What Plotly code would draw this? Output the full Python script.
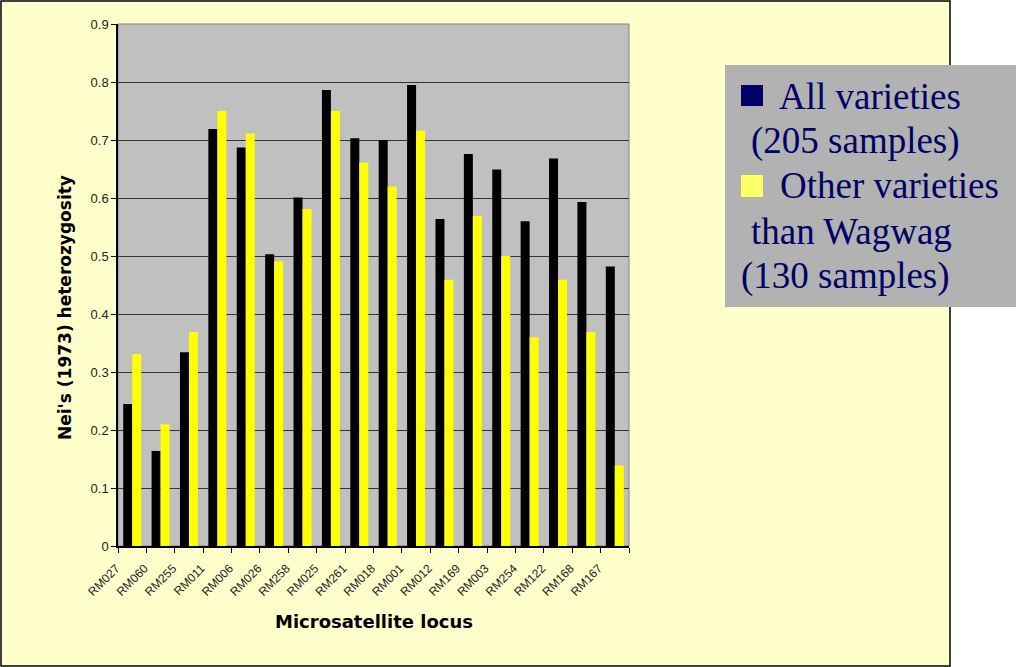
import plotly.graph_objects as go

# Microsatellite loci and Nei's (1973) heterozygosity per group
loci = ["RM027", "RM060", "RM255", "RM011", "RM006", "RM026", "RM258", "RM025", "RM261",
        "RM018", "RM001", "RM012", "RM169", "RM003", "RM254", "RM122", "RM168", "RM167"]
all_varieties = [0.245, 0.164, 0.334, 0.719, 0.687, 0.503, 0.601, 0.786, 0.703,
                 0.700, 0.795, 0.564, 0.676, 0.649, 0.560, 0.668, 0.593, 0.482]
other_varieties = [0.331, 0.210, 0.369, 0.750, 0.711, 0.491, 0.581, 0.750, 0.661,
                   0.620, 0.716, 0.459, 0.569, 0.500, 0.360, 0.459, 0.369, 0.139]

legend_lines = ["All varieties", "(205 samples)", "Other varieties", "than Wagwag", "(130 samples)"]

W, H = 1016, 667
L, R, T, B = 118, 629, 24, 546  # plot area edges in pixels


def px(xp):
    return (xp - L) / (R - L)


def py(yp):
    return (B - yp) / (B - T)


fig = go.Figure()
fig.add_trace(go.Bar(x=loci, y=all_varieties, name="All varieties (205 samples)",
                     marker=dict(color="#000000", line=dict(width=0))))
fig.add_trace(go.Bar(x=loci, y=other_varieties, name="Other varieties than Wagwag (130 samples)",
                     marker=dict(color="#FFFF00", line=dict(width=0))))

shapes = [
    # slide panel
    dict(type="rect", xref="paper", yref="paper", x0=px(1), x1=px(950), y0=py(666), y1=py(1),
         fillcolor="#FFFFCC", line=dict(color="#000000", width=1.5), layer="below"),
    # plot area
    dict(type="rect", xref="paper", yref="paper", x0=0, x1=1, y0=0, y1=1,
         fillcolor="#C0C0C0", line=dict(color="#808080", width=1), layer="below"),
    # legend box
    dict(type="rect", xref="paper", yref="paper", x0=px(725), x1=px(1030), y0=py(307), y1=py(65),
         fillcolor="#B2B2B2", line=dict(width=0), layer="below"),
    # legend keys
    dict(type="rect", xref="paper", yref="paper", x0=px(741), x1=px(763), y0=py(106), y1=py(85),
         fillcolor="#000066", line=dict(width=0), layer="above"),
    dict(type="rect", xref="paper", yref="paper", x0=px(741), x1=px(763), y0=py(197), y1=py(175),
         fillcolor="#FFFF66", line=dict(width=0), layer="above"),
]

annotations = [
    dict(text="Nei's (1973) heterozygosity", xref="paper", yref="paper", x=px(65), y=py(308),
         textangle=-90, showarrow=False, xanchor="center", yanchor="middle",
         font=dict(family="DejaVu Sans", size=17, color="#000000", weight="bold")),
    dict(text="Microsatellite locus", xref="paper", yref="paper", x=px(374), y=py(621),
         showarrow=False, xanchor="center", yanchor="middle",
         font=dict(family="DejaVu Sans", size=18, color="#000000", weight="bold")),
]

line_x = [777, 749, 778, 749, 739]
line_y = [96, 141, 186, 231, 276]
for txt, lx, ly in zip(legend_lines, line_x, line_y):
    annotations.append(dict(text=txt, xref="paper", yref="paper", x=px(lx), y=py(ly),
                            showarrow=False, xanchor="left", yanchor="middle",
                            font=dict(family="Liberation Serif", size=37, color="#000066")))

fig.update_layout(
    width=W, height=H,
    margin=dict(l=L, r=W - R, t=T, b=H - B, pad=0),
    paper_bgcolor="#FFFFFF",
    plot_bgcolor="rgba(0,0,0,0)",
    barmode="group", bargap=0.366, bargroupgap=0,
    showlegend=False,
    shapes=shapes,
    annotations=annotations,
    font=dict(family="Liberation Sans", size=13, color="#222222"),
)
fig.update_xaxes(
    type="category", tickson="boundaries", ticks="outside", ticklen=5, tickcolor="#000000",
    tickangle=-45, ticklabelshift=-16, ticklabelstandoff=9, showline=True, linecolor="#000000",
    linewidth=1.5, showgrid=False, automargin=False,
    tickfont=dict(family="Liberation Sans", size=12, color="#222222"),
)
fig.update_yaxes(
    range=[0, 0.9], dtick=0.1, tick0=0, ticks="outside", ticklen=5, tickcolor="#000000",
    showline=True, linecolor="#000000", linewidth=1.5, showgrid=True, gridcolor="#333333",
    gridwidth=1, zeroline=False, automargin=False,
    tickfont=dict(family="Liberation Sans", size=13, color="#222222"),
)

fig.write_html("out.html")
